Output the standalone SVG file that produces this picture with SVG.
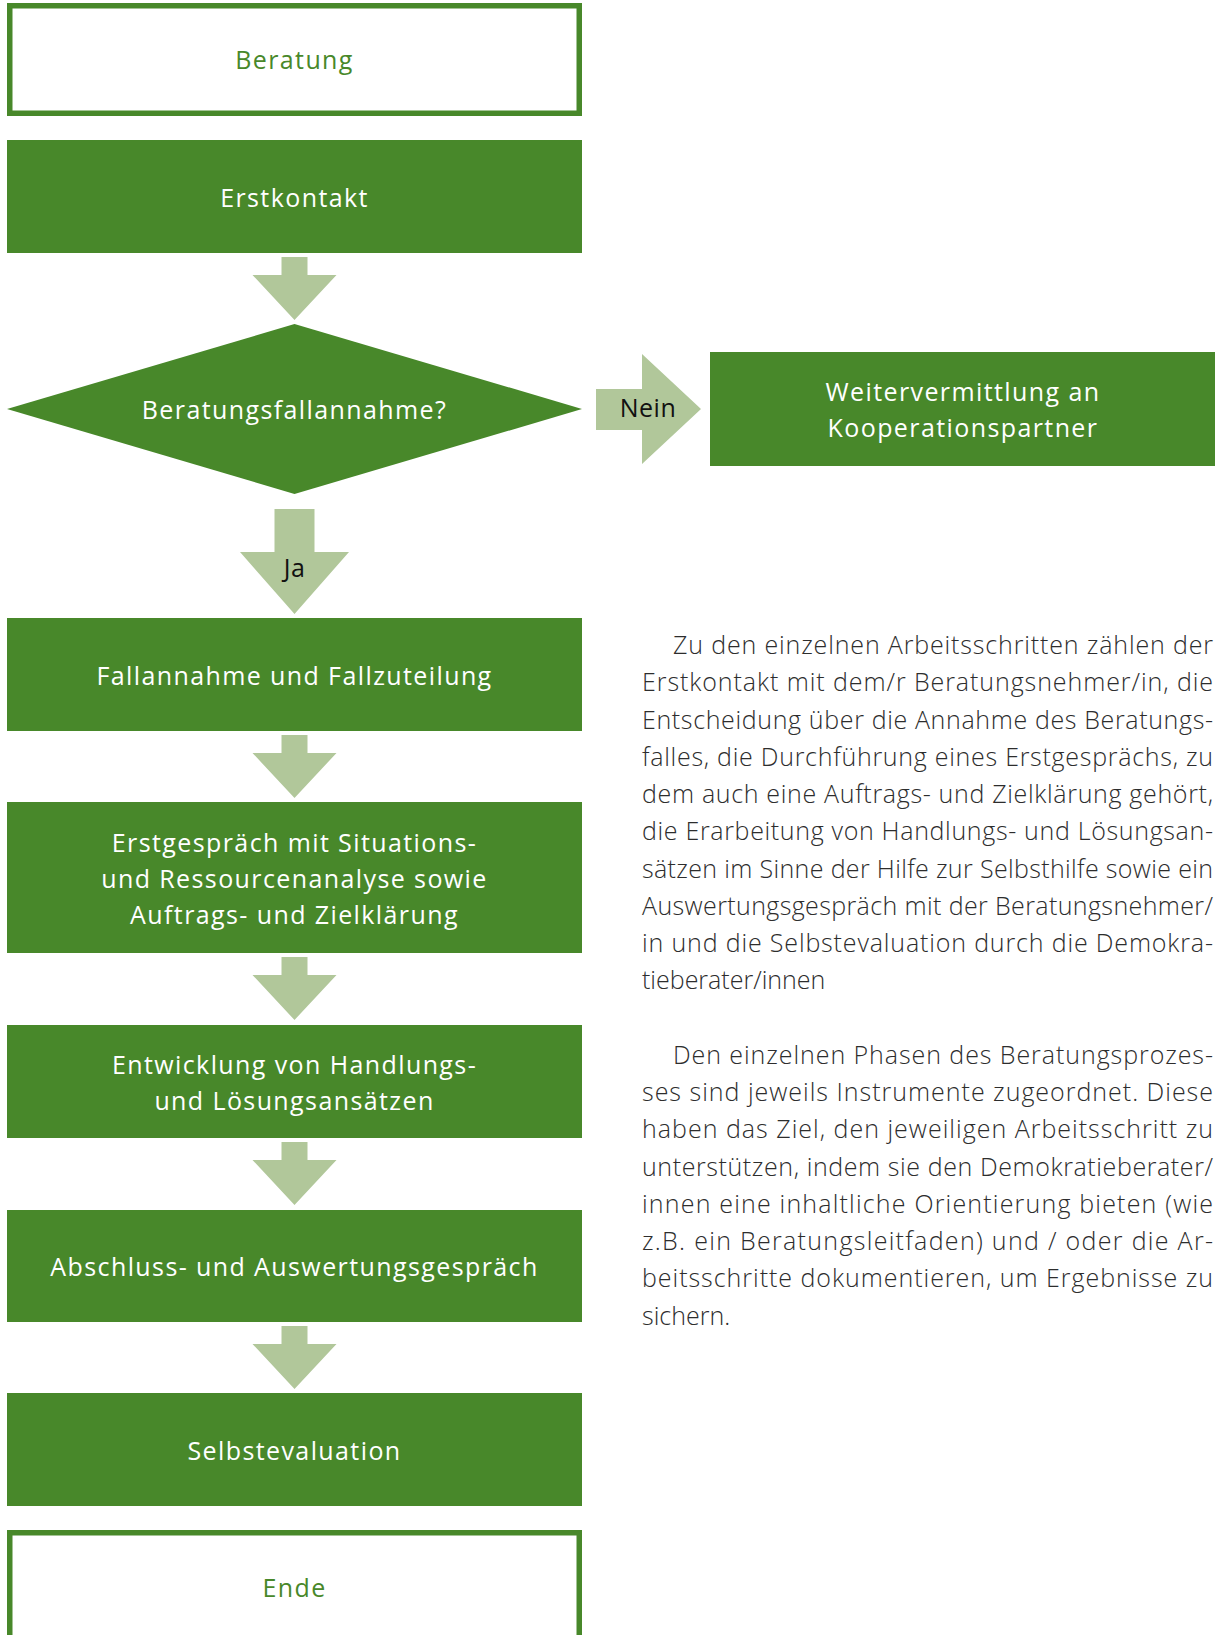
<svg xmlns="http://www.w3.org/2000/svg" width="1215" height="1635" viewBox="0 0 1215 1635">
<style>
.box{fill:#48882A}
.frame{fill:#fff;stroke:#48882A;stroke-width:5.5}
.arr{fill:#B1C79A}
.lbl{font-family:'Open Sans','Noto Sans','DejaVu Sans',sans-serif;font-size:25px;letter-spacing:1.4px;text-anchor:middle;fill:#fff}
.g{fill:#48882A}
.k{fill:#111}
.body{font-family:'Open Sans','Noto Sans','DejaVu Sans',sans-serif;font-weight:300;font-size:25px;fill:#2d2d2d}
</style>
<rect width="1215" height="1635" fill="#fff"/>
<g id="connectors">
<polygon class="arr" points="281.5,257 307.5,257 307.5,275 336.5,275 294.5,320 252.5,275 281.5,275"/>
<polygon class="arr" points="596,389 642,389 642,354 701,409 642,464 642,430 596,430"/>
<text class="lbl k" x="648" y="417" style="letter-spacing:0.5px">Nein</text>
<polygon class="arr" points="274.5,509 314.5,509 314.5,552 349,552 294.5,614 240,552 274.5,552"/>
<text class="lbl k" x="294.5" y="577" style="letter-spacing:0.5px">Ja</text>
<polygon class="arr" points="281.5,735 307.5,735 307.5,753 336.5,753 294.5,798 252.5,753 281.5,753"/>
<polygon class="arr" points="281.5,957 307.5,957 307.5,975 336.5,975 294.5,1020 252.5,975 281.5,975"/>
<polygon class="arr" points="281.5,1142 307.5,1142 307.5,1160 336.5,1160 294.5,1205 252.5,1160 281.5,1160"/>
<polygon class="arr" points="281.5,1326 307.5,1326 307.5,1344 336.5,1344 294.5,1389 252.5,1344 281.5,1344"/>
</g>
<g id="beratung">
<rect class="frame" x="9.75" y="5.75" width="569.5" height="107.5"/>
<text class="lbl g" x="294.5" y="69">Beratung</text>
</g>
<g id="erstkontakt">
<rect class="box" x="7" y="140" width="575" height="113"/>
<text class="lbl" x="294.5" y="206.5">Erstkontakt</text>
</g>
<g id="entscheidung">
<polygon class="box" points="7,409 294.5,324 582,409 294.5,494"/>
<text class="lbl" x="294.5" y="419">Beratungsfallannahme?</text>
</g>
<g id="weitervermittlung">
<rect class="box" x="710" y="352" width="510" height="114"/>
<text class="lbl" x="963" y="401">Weitervermittlung an</text>
<text class="lbl" x="963" y="437">Kooperationspartner</text>
</g>
<g id="fallannahme">
<rect class="box" x="7" y="618" width="575" height="113"/>
<text class="lbl" x="294.5" y="684.5">Fallannahme und Fallzuteilung</text>
</g>
<g id="erstgespraech">
<rect class="box" x="7" y="802" width="575" height="151"/>
<text class="lbl" x="294.5" y="852">Erstgespräch mit Situations-</text>
<text class="lbl" x="294.5" y="888">und Ressourcenanalyse sowie</text>
<text class="lbl" x="294.5" y="924">Auftrags- und Zielklärung</text>
</g>
<g id="entwicklung">
<rect class="box" x="7" y="1025" width="575" height="113"/>
<text class="lbl" x="294.5" y="1073.5">Entwicklung von Handlungs-</text>
<text class="lbl" x="294.5" y="1109.5">und Lösungsansätzen</text>
</g>
<g id="abschluss">
<rect class="box" x="7" y="1210" width="575" height="112"/>
<text class="lbl" x="294.5" y="1276">Abschluss- und Auswertungsgespräch</text>
</g>
<g id="selbstevaluation">
<rect class="box" x="7" y="1393" width="575" height="113"/>
<text class="lbl" x="294.5" y="1459.5">Selbstevaluation</text>
</g>
<g id="ende">
<rect class="frame" x="9.75" y="1532.75" width="569.5" height="200"/>
<text class="lbl g" x="294.5" y="1597">Ende</text>
</g>
<g id="fliesstext" class="body">
<text x="673" y="654" textLength="540" lengthAdjust="spacing">Zu den einzelnen Arbeitsschritten zählen der</text>
<text x="642" y="691.25" textLength="571" lengthAdjust="spacing">Erstkontakt mit dem/r Beratungsnehmer/in, die</text>
<text x="642" y="728.5" textLength="571" lengthAdjust="spacing">Entscheidung über die Annahme des Beratungs-</text>
<text x="642" y="765.75" textLength="571" lengthAdjust="spacing">falles, die Durchführung eines Erstgesprächs, zu</text>
<text x="642" y="803" textLength="571" lengthAdjust="spacing">dem auch eine Auftrags- und Zielklärung gehört,</text>
<text x="642" y="840.25" textLength="571" lengthAdjust="spacing">die Erarbeitung von Handlungs- und Lösungsan-</text>
<text x="642" y="877.5" textLength="571" lengthAdjust="spacing">sätzen im Sinne der Hilfe zur Selbsthilfe sowie ein</text>
<text x="642" y="914.75" textLength="571" lengthAdjust="spacing">Auswertungsgespräch mit der Beratungsnehmer/</text>
<text x="642" y="952" textLength="571" lengthAdjust="spacing">in und die Selbstevaluation durch die Demokra-</text>
<text x="642" y="989.25">tieberater/innen</text>
<text x="673" y="1063.75" textLength="540" lengthAdjust="spacing">Den einzelnen Phasen des Beratungsprozes-</text>
<text x="642" y="1101" textLength="571" lengthAdjust="spacing">ses sind jeweils Instrumente zugeordnet. Diese</text>
<text x="642" y="1138.25" textLength="571" lengthAdjust="spacing">haben das Ziel, den jeweiligen Arbeitsschritt zu</text>
<text x="642" y="1175.5" textLength="571" lengthAdjust="spacing">unterstützen, indem sie den Demokratieberater/</text>
<text x="642" y="1212.75" textLength="571" lengthAdjust="spacing">innen eine inhaltliche Orientierung bieten (wie</text>
<text x="642" y="1250" textLength="571" lengthAdjust="spacing">z.B. ein Beratungsleitfaden) und / oder die Ar-</text>
<text x="642" y="1287.25" textLength="571" lengthAdjust="spacing">beitsschritte dokumentieren, um Ergebnisse zu</text>
<text x="642" y="1324.5">sichern.</text>
</g>
</svg>
